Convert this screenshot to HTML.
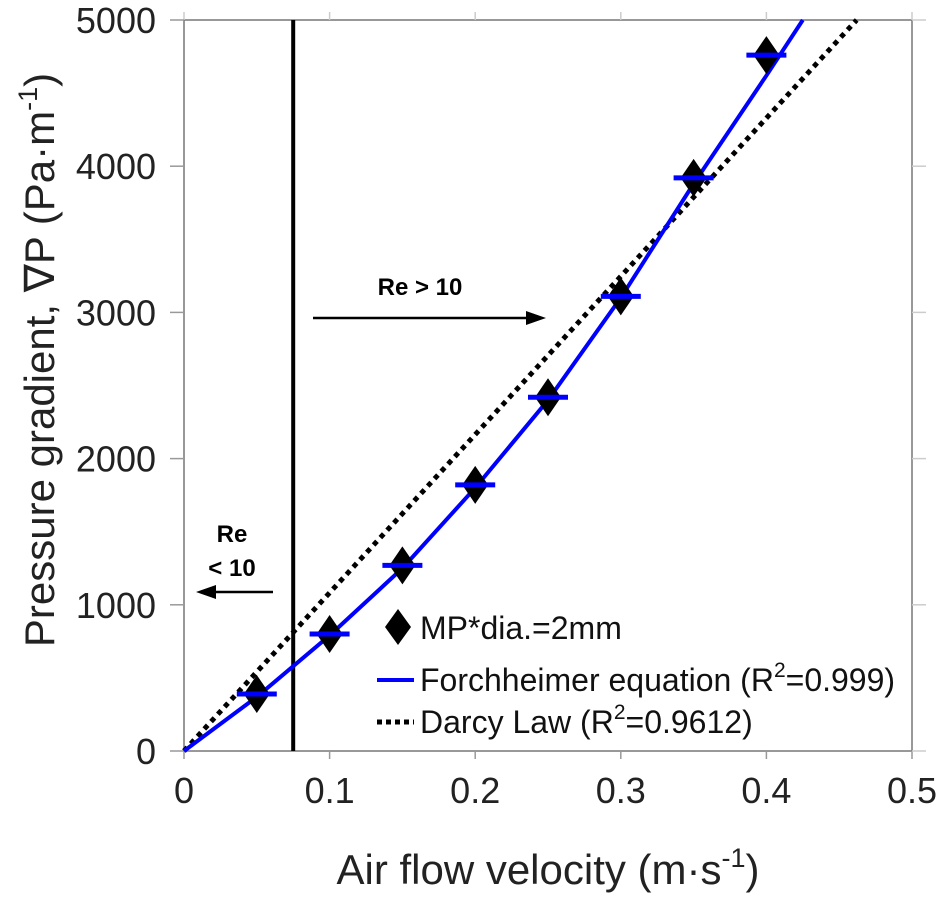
<!DOCTYPE html>
<html><head><meta charset="utf-8"><style>
body{margin:0;background:#fff;}
svg text{font-family:"Liberation Sans",sans-serif;}
</style></head><body>
<svg id="c" width="945" height="900" xmlns="http://www.w3.org/2000/svg"></svg>
<script>
const xTicks=[0,0.1,0.2,0.3,0.4,0.5];
const yTicks=[0,1000,2000,3000,4000,5000];
const expV=[0.05,0.1,0.15,0.2,0.25,0.3,0.35,0.4];
const expP=[390,800,1270,1820,2420,3110,3920,4760];
const fV=[0,0.05,0.1,0.15,0.2,0.25,0.3,0.35,0.4,0.425];
const fP=[0,370,790,1250,1800,2400,3100,3880,4620,5000];
const darcyV=[0,0.462];
const darcyP=[0,5000];
const reLine=0.075;
const X0=184,X1=912,Y0=751,Y1=20;
const sx=v=>X0+(X1-X0)*v/0.5, sy=p=>Y0-(Y0-Y1)*p/5000;
const svg=document.getElementById('c'),NS='http://www.w3.org/2000/svg';
function el(t,a,txt){const e=document.createElementNS(NS,t);for(const k in a)e.setAttribute(k,a[k]);if(txt!==undefined)e.textContent=txt;svg.appendChild(e);return e;}
let e;
e=el('rect',{x:X0,y:Y1,width:X1-X0,height:Y0-Y1,fill:'none',stroke:'#777','stroke-width':1.5});


xTicks.forEach(t=>{
 e=el('line',{x1:sx(t),x2:sx(t),y1:Y0,y2:Y0+8,stroke:'#999','stroke-width':1.5});
 
 
 el('line',{x1:sx(t),x2:sx(t),y1:Y1,y2:Y1-8,stroke:'#ccc','stroke-width':1.5});
 e=el('text',{x:sx(t),y:Y0+52,'font-size':36,'text-anchor':'middle',fill:'#222'},String(t));
 
 
});
yTicks.forEach(t=>{
 e=el('line',{x1:X0-14,x2:X0,y1:sy(t),y2:sy(t),stroke:'#999','stroke-width':1.5});
 
 
 el('line',{x1:X1,x2:X1+14,y1:sy(t),y2:sy(t),stroke:'#ccc','stroke-width':1.5});
 e=el('text',{x:X0-28,y:sy(t)+13,'font-size':36,'text-anchor':'end',fill:'#222'},String(t));
 
 
});
e=el('text',{x:548,y:884,'font-size':42,'text-anchor':'middle',fill:'#222'});
e.innerHTML='Air flow velocity (m·s<tspan dy="-17" font-size="27">-1</tspan><tspan dy="17">)</tspan>';


e=el('text',{x:0,y:0,'font-size':42,'text-anchor':'middle',fill:'#222',transform:'translate(54,360) rotate(-90)'});
e.innerHTML='Pressure gradient, ∇P (Pa·m<tspan dy="-17" font-size="27">-1</tspan><tspan dy="17">)</tspan>';


e=el('line',{x1:sx(reLine),x2:sx(reLine),y1:Y1,y2:Y0,stroke:'#000','stroke-width':4});


e=el('polyline',{points:darcyV.map((v,i)=>sx(v)+','+sy(darcyP[i])).join(' '),fill:'none',stroke:'#000','stroke-width':5,'stroke-dasharray':'5 5'});


e=el('polyline',{points:fV.map((v,i)=>sx(v)+','+sy(fP[i])).join(' '),fill:'none',stroke:'#0000ff','stroke-width':4});


expV.forEach((v,i)=>{
 const x=sx(v),y=sy(expP[i]);
 e=el('polygon',{points:`${x},${y-19} ${x+13},${y} ${x},${y+19} ${x-13},${y}`,fill:'#000'});
 
 
 e=el('line',{x1:x-20,x2:x+20,y1:y,y2:y,stroke:'#0000ff','stroke-width':5});
 
 
});
e=el('g',{});
el('line',{x1:313,x2:530,y1:318,y2:318,stroke:'#000','stroke-width':2.5});
el('polygon',{points:'546,318 526,311 526,325',fill:'#000'});
e=el('text',{x:420,y:295,'font-size':24,'font-weight':'bold','text-anchor':'middle'},'Re > 10');

el('line',{x1:212,x2:273,y1:592,y2:592,stroke:'#000','stroke-width':2.5});
el('polygon',{points:'196,592 216,585 216,599',fill:'#000'});
e=el('text',{x:232,y:542,'font-size':24,'font-weight':'bold','text-anchor':'middle'},'Re');

el('text',{x:232,y:576,'font-size':24,'font-weight':'bold','text-anchor':'middle'},'< 10');
el('polygon',{points:'398,609 411,627 398,645 385,627',fill:'#000'});
e=el('text',{x:420,y:639,'font-size':32,fill:'#111'},'MP*dia.=2mm');
el('line',{x1:377,x2:414,y1:680,y2:680,stroke:'#0000ff','stroke-width':4});
e=el('text',{x:420,y:691,'font-size':32,fill:'#111'});e.innerHTML='Forchheimer equation (R<tspan dy="-14" font-size="21">2</tspan><tspan dy="14">=0.999)</tspan>';

el('line',{x1:377,x2:414,y1:722,y2:722,stroke:'#000','stroke-width':5,'stroke-dasharray':'5 4'});
e=el('text',{x:420,y:733,'font-size':32,fill:'#111'});e.innerHTML='Darcy Law (R<tspan dy="-14" font-size="21">2</tspan><tspan dy="14">=0.9612)</tspan>';

</script>
</body></html>
